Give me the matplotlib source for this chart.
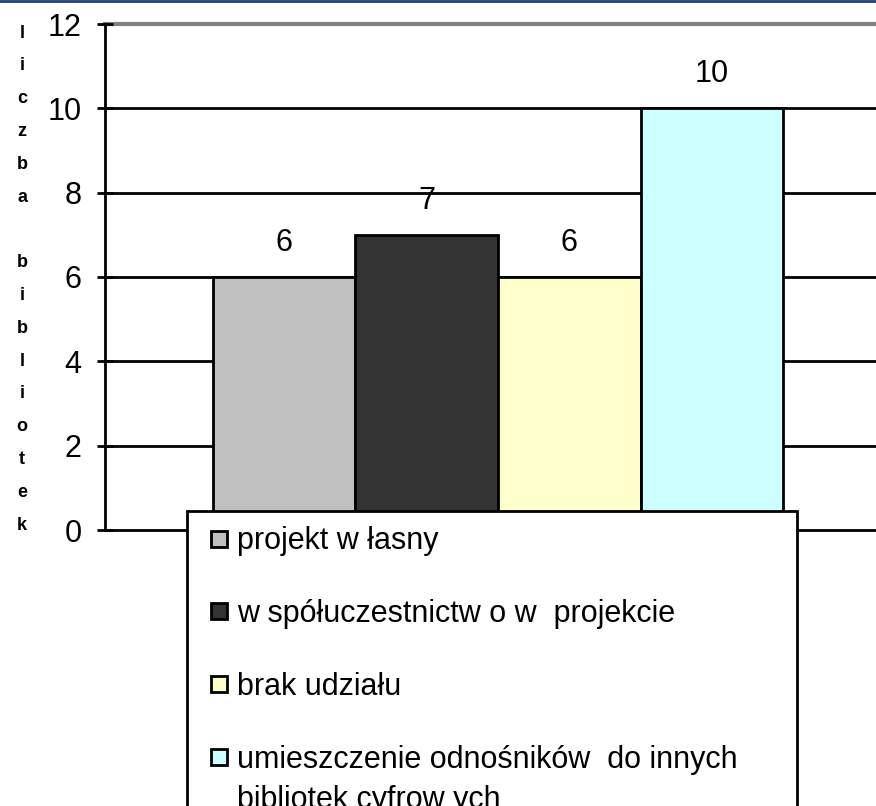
import numpy as np
import matplotlib.pyplot as plt
from matplotlib.lines import Line2D
from matplotlib.legend_handler import HandlerLine2D

# data
labels = ["projekt w łasny",
          "w spółuczestnictw o w  projekcie",
          "brak udziału",
          "umieszczenie odnośników  do innych\nbibliotek cyfrow ych"]
values = [6, 7, 6, 10]
colors = ["#c0c0c0", "#333333", "#ffffcc", "#ccffff"]
yticks = [0, 2, 4, 6, 8, 10, 12]
ylabel = "liczba bibliotek"

plt.rcParams['font.family'] = ['Liberation Sans', 'DejaVu Sans']


class TopHandler(HandlerLine2D):
    # put the marker next to the first line of a two-line label
    def create_artists(self, *args, **kwargs):
        arts = super().create_artists(*args, **kwargs)
        for a in arts:
            a.set_ydata(np.asarray(a.get_ydata()) + 17)
        return arts


fig = plt.figure(figsize=(8.76, 8.06), dpi=100)
ax = fig.add_axes([105/876, 1-530/806, (891-105)/876, (530-24)/806])

x = np.arange(len(values))
ax.bar(x, values, width=1.0, color=colors, edgecolor='black',
       linewidth=2, zorder=3)

for xi, v in zip(x, values):
    ax.text(xi, v + 0.45, str(v), ha='center', va='bottom', fontsize=22, zorder=4)

ax.set_xlim(-1.255, 4.255)
ax.set_ylim(0, 12)
ax.set_yticks(yticks)
ax.set_yticklabels([str(t) for t in yticks], fontsize=22)
ax.tick_params(axis='y', direction='inout', length=12, width=2, pad=11)
ax.set_xticks([])

# gridlines
for t in yticks[:-1]:
    ax.axhline(t, color='black', lw=2, zorder=1, clip_on=False)
ax.axhline(12, color='#808080', lw=3, zorder=1, clip_on=False)

for s in ['top', 'right', 'bottom']:
    ax.spines[s].set_visible(False)
ax.spines['left'].set_linewidth(2)
ax.spines['left'].set_zorder(5)

# vertical stacked y label
for i, ch in enumerate(ylabel):
    fig.text(22/876, 1 - (33 + i * 32.8)/806, ch, ha='center', va='center',
             fontsize=13, fontweight='bold')

# legend
handles = [Line2D([], [], marker='s', linestyle='none', markersize=12,
                  markerfacecolor=c, markeredgecolor='black', markeredgewidth=2)
           for c in colors]
leg_h = 0.4
leg = fig.legend(handles, labels, loc='upper left',
                 bbox_to_anchor=(187/876, 1 - 511/806 - leg_h, 610/876, leg_h),
                 mode='expand', fontsize=22,
                 frameon=True, fancybox=False, edgecolor='black',
                 handlelength=1.1, handletextpad=0.05,
                 labelspacing=1.4, borderpad=0.5, borderaxespad=0,
                 handler_map={handles[3]: TopHandler()})
leg.get_frame().set_linewidth(2)
leg.get_frame().set_alpha(1)
for t in leg.get_texts():
    t.set_linespacing(1.45)

# top border line
fig.add_artist(Line2D([0, 1], [1 - 1/806, 1 - 1/806], color='#1f3f7f', lw=2,
                      transform=fig.transFigure))

fig.savefig('out.png', dpi=100)
